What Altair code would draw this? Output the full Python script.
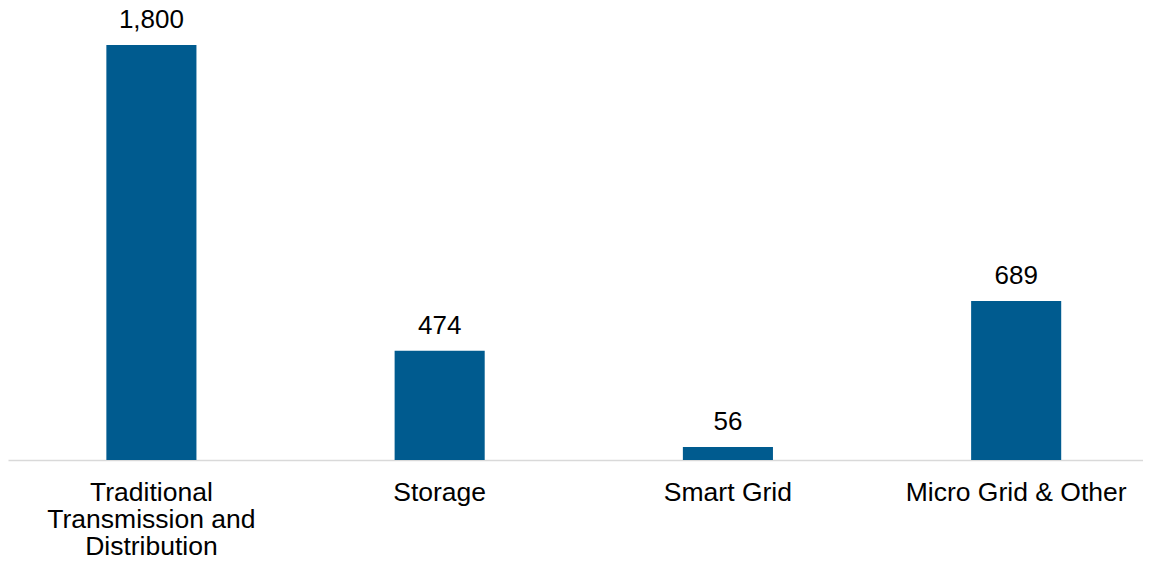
import altair as alt
import pandas as pd

categories = ["Traditional Transmission and Distribution", "Storage", "Smart Grid", "Micro Grid & Other"]
values = [1800, 474, 56, 689]

df = pd.DataFrame({"category": categories, "value": values})

label_expr = ("datum.value == 'Traditional Transmission and Distribution' ? "
              "['Traditional', 'Transmission and', 'Distribution'] : datum.value")

x = alt.X("category:N", sort=categories, title=None,
          scale=alt.Scale(paddingInner=0.6875, paddingOuter=0.3125, align=0.546),
          axis=alt.Axis(labelAngle=0, labelFont="Liberation Sans", labelFontSize=26.5,
                        labelColor="#000000", labelPadding=40, labelLimit=0,
                        labelBaseline="alphabetic",
                        labelLineHeight=27, labelExpr=label_expr, ticks=False,
                        domainColor="#d9d9d9", domainWidth=1.5, grid=False))
y = alt.Y("value:Q", scale=alt.Scale(domain=[0, 1960], nice=False), axis=None)

bars = alt.Chart(df).mark_bar(color="#005b8f").encode(x=x, y=y)
text = alt.Chart(df).mark_text(font="Liberation Sans", fontSize=26, color="#000000",
                               baseline="alphabetic", dy=-17).encode(
    x=alt.X("category:N", sort=categories),
    y=alt.Y("value:Q"),
    text=alt.Text("value:Q", format=","))

chart = (bars + text).properties(
    width=1135, height=452,
    padding={"left": 0, "top": 0, "right": 0, "bottom": 99},
    autosize=alt.AutoSizeParams(type="none"),
).configure_view(stroke=None)

chart.save("out.html", embed_options={"renderer": "svg", "actions": False})
